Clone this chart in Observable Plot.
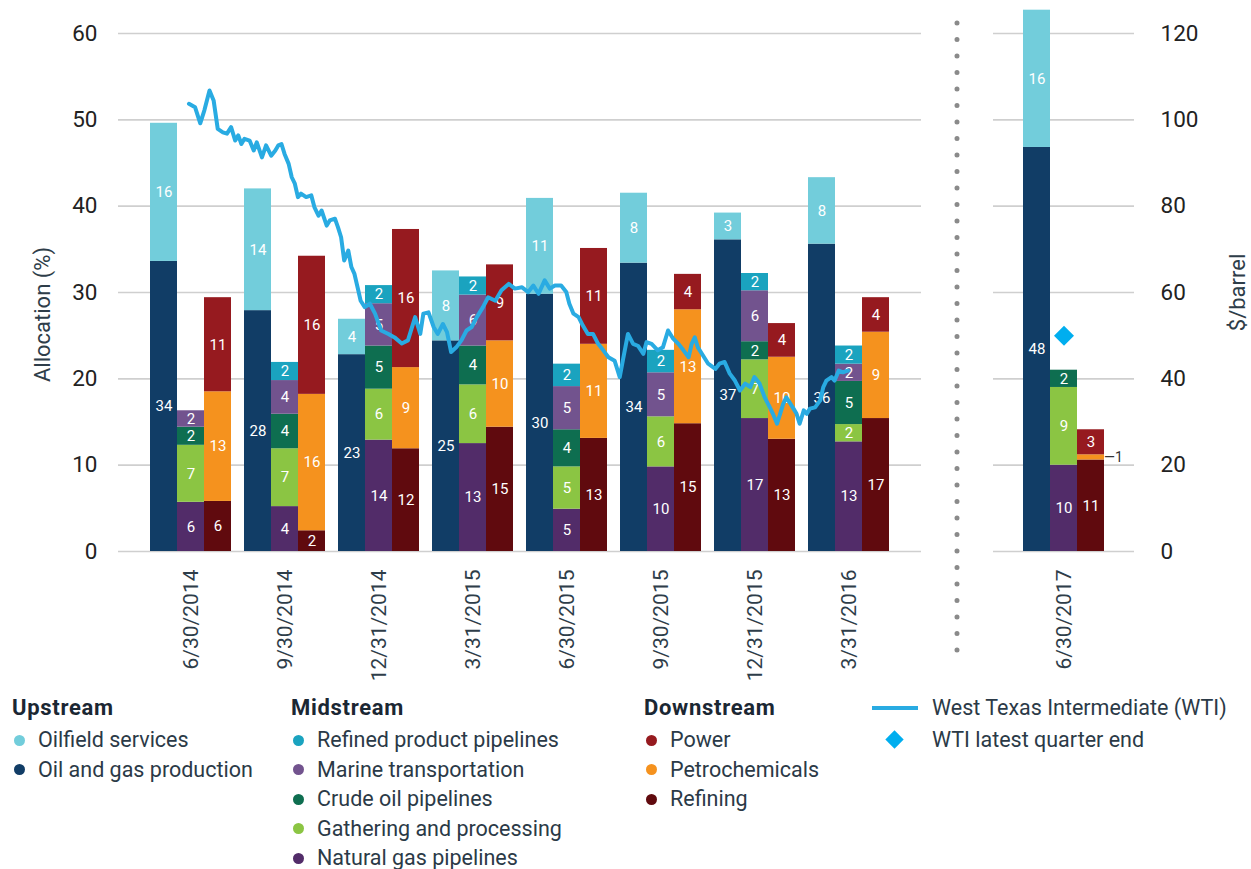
<!DOCTYPE html>
<html>
<head>
<meta charset="utf-8">
<script src="https://cdn.jsdelivr.net/npm/d3@7"></script>
<script src="https://cdn.jsdelivr.net/npm/@observablehq/plot@0.6"></script>
<style>
  body { margin: 0; background: #fff; font-family: Roboto, "Liberation Sans", sans-serif; }
  #wrap { position: relative; width: 1251px; height: 869px; overflow: hidden; background: #fff; }
  .lg { position: absolute; font-size: 21.5px; color: #2b3a47; line-height: 30px; white-space: nowrap; }
  .hd { font-weight: 700; color: #1b2733; font-size: 22px; letter-spacing: 0.7px; }
  .it { position: relative; padding-left: 26px; }
  .dot { position: absolute; left: 2px; top: 9.5px; width: 11px; height: 11px; border-radius: 50%; }
</style>
</head>
<body>
<div id="wrap">
  <svg style="position:absolute;left:0;top:0" width="1251" height="869">
    <line x1="957" y1="23" x2="957" y2="652" stroke="#8a8a8a" stroke-width="5" stroke-linecap="round" stroke-dasharray="0 16.5"/>
  </svg>
</div>
<script>
// ---------------- data ----------------
const dates = ["6/30/2014","9/30/2014","12/31/2014","3/31/2015","6/30/2015","9/30/2015","12/31/2015","3/31/2016","6/30/2017"];
const streams = ["Upstream","Midstream","Downstream"];

// Upstream
const oilGasProduction      = [33.6, 27.9, 22.8, 24.4, 29.8, 33.4, 36.1, 35.6, 46.8];
const oilGasProductionLbl   = [34, 28, 23, 25, 30, 34, 37, 36, 48];
const oilfieldServices      = [16.0, 14.1, 4.1, 8.1, 11.1, 8.1, 3.1, 7.7, 15.9];
const oilfieldServicesLbl   = [16, 14, 4, 8, 11, 8, 3, 8, 16];
// Midstream
const naturalGasPipelines   = [5.7, 5.2, 12.9, 12.5, 4.9, 9.8, 15.4, 12.7, 10.0];
const naturalGasPipelinesLbl= [6, 4, 14, 13, 5, 10, 17, 13, 10];
const gatheringProcessing   = [6.6, 6.7, 5.9, 6.8, 4.9, 5.8, 6.8, 2.0, 9.0];
const gatheringProcessingLbl= [7, 7, 6, 6, 5, 6, 7, 2, 9];
const crudeOilPipelines     = [2.1, 4.0, 5.0, 4.5, 4.3, 0, 2.1, 5.0, 2.0];
const crudeOilPipelinesLbl  = [2, 4, 5, 4, 4, 0, 2, 5, 2];
const marineTransportation  = [1.9, 3.9, 4.9, 5.9, 5.0, 5.1, 5.9, 2.0, 0];
const marineTransportationLbl=[2, 4, 5, 6, 5, 5, 6, 2, 0];
const refinedProductPipelines    = [0, 2.1, 2.1, 2.1, 2.6, 2.6, 2.0, 2.1, 0];
const refinedProductPipelinesLbl = [0, 2, 2, 2, 2, 2, 2, 2, 0];
// Downstream
const refining          = [5.8, 2.4, 11.9, 14.4, 13.1, 14.8, 13.0, 15.4, 10.6];
const refiningLbl       = [6, 2, 12, 15, 13, 15, 13, 17, 11];
const petrochemicals    = [12.7, 15.8, 9.4, 10.0, 10.9, 13.2, 9.5, 10.0, 0.6];
const petrochemicalsLbl = [13, 16, 9, 10, 11, 13, 10, 9, 1];
const power             = [10.9, 16.0, 16.0, 8.8, 11.1, 4.1, 3.9, 4.0, 2.9];
const powerLbl          = [11, 16, 16, 9, 11, 4, 4, 4, 3];

// WTI ($/barrel): days after 6/30/2014, price
const wtiDay = [-2,4,9,13,18,22,26,31,35,39,43,46,49,52,57,61,64,69,73,78,82,85,88,91,95,98,101,104,107,112,117,120,124,127,132,135,140,143,146,149,153,156,159,162,165,169,174,179,185,192,198,205,211,218,223,226,231,236,240,245,249,253,258,263,268,273,278,284,289,296,302,309,315,322,328,333,338,344,349,354,360,365,368,372,377,381,386,391,396,401,406,412,417,420,425,430,435,440,443,448,454,459,464,469,474,479,484,487,490,493,498,503,510,514,519,524,529,534,539,544,548,553,558,563,566,570,573,576,579,582,586,589,592,596,599,602,607,612,615,618,623,626,630,634,639];
const wtiPrice = [103.7,102.9,99.2,102.2,106.8,104.5,97.9,97.1,96.8,98.3,95.2,96.4,94.4,95.6,95.2,92.9,94.8,91.3,94.1,91.7,92.9,94.1,94.4,92.1,89.8,86.7,85.2,82.1,82.9,82.1,82.5,79.8,77.8,79.0,75.5,76.7,77.1,75.1,72.8,67.4,69.7,65.9,64.3,61.2,58.1,56.6,57.4,55.1,51.2,50.4,49.6,48.2,48.9,54.3,50.4,55.1,55.4,52.0,50.4,52.7,50.8,46.2,47.3,48.9,51.2,52.0,54.3,56.6,58.9,58.1,60.5,62.0,60.9,61.2,60.1,61.6,59.7,62.8,60.9,61.6,61.6,60.1,57.4,55.1,54.3,52.4,50.4,50.4,48.1,46.6,45.0,44.2,40.4,44.2,50.4,48.1,47.6,45.8,48.5,48.1,46.6,47.3,51.2,49.3,48.1,46.6,45.0,48.1,49.6,47.3,45.4,43.5,42.3,43.5,43.9,41.2,39.6,37.3,38.9,38.1,40.4,38.9,35.7,33.4,31.9,29.6,31.9,34.2,35.7,34.6,33.1,31.9,29.6,32.7,31.9,33.1,33.4,35.0,38.1,39.6,40.4,39.6,41.9,41.5,41.9];
const wtiStart = "2014-06-30", wtiEnd = "2016-03-31";
const wtiLatest = 50;

const leftTicks = [0, 10, 20, 30, 40, 50, 60];
const rightTicks = [0, 20, 40, 60, 80, 100, 120];

// ---------------- build tables ----------------
const seriesDefs = [
  ["Oil and gas production", "Upstream", oilGasProduction, oilGasProductionLbl],
  ["Oilfield services", "Upstream", oilfieldServices, oilfieldServicesLbl],
  ["Natural gas pipelines", "Midstream", naturalGasPipelines, naturalGasPipelinesLbl],
  ["Gathering and processing", "Midstream", gatheringProcessing, gatheringProcessingLbl],
  ["Crude oil pipelines", "Midstream", crudeOilPipelines, crudeOilPipelinesLbl],
  ["Marine transportation", "Midstream", marineTransportation, marineTransportationLbl],
  ["Refined product pipelines", "Midstream", refinedProductPipelines, refinedProductPipelinesLbl],
  ["Refining", "Downstream", refining, refiningLbl],
  ["Petrochemicals", "Downstream", petrochemicals, petrochemicalsLbl],
  ["Power", "Downstream", power, powerLbl]
];
const stackOrder = seriesDefs.map(d => d[0]);
const palette = {
  "Oil and gas production": "#113d66",
  "Oilfield services": "#72cddb",
  "Natural gas pipelines": "#522c69",
  "Gathering and processing": "#8bc543",
  "Crude oil pipelines": "#0e6e50",
  "Marine transportation": "#72538e",
  "Refined product pipelines": "#1aa3bf",
  "Refining": "#600a0e",
  "Petrochemicals": "#f5921e",
  "Power": "#961a1f"
};
const rows = [];
dates.forEach((date, i) => {
  for (const [series, stream, vals, lbls] of seriesDefs) {
    rows.push({date, stream, series, value: vals[i], label: lbls[i]});
  }
});
const leftRows = rows.filter(d => d.date !== dates[8]);
const rightRows = rows.filter(d => d.date === dates[8]);

const parse = d3.utcParse("%Y-%m-%d");
const t0 = parse(wtiStart);
const wti = wtiDay.map((d, i) => ({date: d3.utcDay.offset(t0, d), price: wtiPrice[i]}));

// ---------------- layout ----------------
const FONT = "Roboto, 'Liberation Sans', sans-serif";
const W = 1251, H = 690, BASE = 551, TOP = 33;
const wrap = document.getElementById("wrap");
function add(el) { el.style.position = "absolute"; el.style.left = "0"; el.style.top = "0"; el.style.maxWidth = "none"; wrap.appendChild(el); }
const common = {width: W, height: H, marginTop: TOP, marginBottom: H - BASE,
  style: {background: "transparent", fontFamily: FONT, overflow: "visible"}};
const color = {domain: stackOrder, range: stackOrder.map(s => palette[s])};

function barMarks(data) {
  return [
    Plot.barY(data, {fx: "date", x: "stream", y: "value", fill: "series", order: stackOrder}),
    Plot.text(data, Plot.stackY({fx: "date", x: "stream", y: "value", z: "series", order: stackOrder,
      text: d => d.value >= 1.5 ? String(d.label) : null, fill: "white", fontSize: 15})),
    Plot.text(data, Plot.stackY({fx: "date", x: "stream", y: "value", z: "series", order: stackOrder,
      text: d => d.value > 0 && d.value < 1.5 ? "\u2014" + d.label : null, fill: "#333", fontSize: 14,
      textAnchor: "start", dx: 13})),
    Plot.axisFx({anchor: "bottom", tickRotate: -90, tickSize: 0, tickPadding: 18, fontSize: 21,
      fill: "#2e3d49", label: null})
  ];
}

// left background: gridlines + left axis
add(Plot.plot({...common, marginLeft: 118, marginRight: W - 921,
  y: {domain: [0, 60], axis: null},
  marks: [
    Plot.ruleY(leftTicks, {stroke: "#cfcfcf", strokeWidth: 1.6}),
    Plot.axisY(leftTicks, {anchor: "left", tickSize: 0, tickPadding: 21, fontSize: 22.5, fill: "#222", label: null}),
    Plot.text(["Allocation (%)"], {text: d => d, frameAnchor: "left", textAnchor: "middle", dx: -76, dy: 22, rotate: -90, fontSize: 22, fill: "#2e3d49"})
  ]}));

// right background: gridlines + $/barrel axis + latest WTI
add(Plot.plot({...common, marginLeft: 993, marginRight: W - 1134,
  y: {domain: [0, 120], axis: null},
  marks: [
    Plot.ruleY(rightTicks, {stroke: "#cfcfcf", strokeWidth: 1.6}),
    Plot.axisY(rightTicks, {anchor: "right", tickSize: 0, tickPadding: 26, fontSize: 22.5, fill: "#222", label: null}),
    Plot.text(["$/barrel"], {text: d => d, frameAnchor: "right", textAnchor: "middle", dx: 103, rotate: -90, fontSize: 22, fill: "#2e3d49"}),
    Plot.dot([wtiLatest], {y: d => d, symbol: "diamond2", r: 9, fill: "#00aeef", frameAnchor: "middle"})
  ]}));

// left bars
add(Plot.plot({...common, marginLeft: 118, marginRight: W - 921,
  fx: {domain: dates.slice(0, 8), paddingInner: 0.138, paddingOuter: 0.34, label: null},
  x: {domain: streams, padding: 0, axis: null},
  y: {domain: [0, 60], axis: null},
  color,
  marks: barMarks(leftRows)}));

// right bars
add(Plot.plot({...common, marginLeft: 993, marginRight: W - 1134,
  fx: {domain: [dates[8]], paddingInner: 0.138, paddingOuter: 0.319, label: null},
  x: {domain: streams, padding: 0, axis: null},
  y: {domain: [0, 60], axis: null},
  color,
  marks: barMarks(rightRows)}));

// WTI line overlay
add(Plot.plot({...common, marginLeft: 190.5, marginRight: W - 848.5,
  x: {type: "utc", domain: [parse(wtiStart), parse(wtiEnd)], axis: null},
  y: {domain: [0, 120], axis: null},
  marks: [Plot.line(wti, {x: "date", y: "price", stroke: "#29abe2", strokeWidth: 4, strokeLinejoin: "round"})]}));

// ---------------- legend ----------------
function legendCol(x, header, items) {
  const col = document.createElement("div");
  col.className = "lg";
  col.style.left = x + "px";
  col.style.top = "693px";
  const hd = document.createElement("div");
  hd.className = "hd"; hd.textContent = header; hd.style.height = "32px";
  col.appendChild(hd);
  for (const name of items) {
    const it = document.createElement("div");
    it.className = "it"; it.style.height = "29.6px"; it.style.lineHeight = "29.6px";
    const dot = document.createElement("span");
    dot.className = "dot"; dot.style.background = palette[name];
    it.appendChild(dot);
    it.appendChild(document.createTextNode(name));
    col.appendChild(it);
  }
  wrap.appendChild(col);
}
legendCol(12, "Upstream", ["Oilfield services", "Oil and gas production"]);
legendCol(291, "Midstream", ["Refined product pipelines", "Marine transportation", "Crude oil pipelines", "Gathering and processing", "Natural gas pipelines"]);
legendCol(644, "Downstream", ["Power", "Petrochemicals", "Refining"]);

const wl = document.createElement("div");
wl.className = "lg";
wl.style.left = "872px"; wl.style.top = "693px";
wl.innerHTML = '<div style="position:relative;height:30px;padding-left:60px">' +
  '<span style="position:absolute;left:0;top:13px;width:46px;height:4px;background:#29abe2"></span>West Texas Intermediate (WTI)</div>' +
  '<div style="position:relative;height:30px;padding-left:60px;margin-top:2px;line-height:30px">' +
  '<span style="position:absolute;left:16px;top:8px;width:13px;height:13px;background:#00aeef;transform:rotate(45deg)"></span>WTI latest quarter end</div>';
wrap.appendChild(wl);
</script>
</body>
</html>
